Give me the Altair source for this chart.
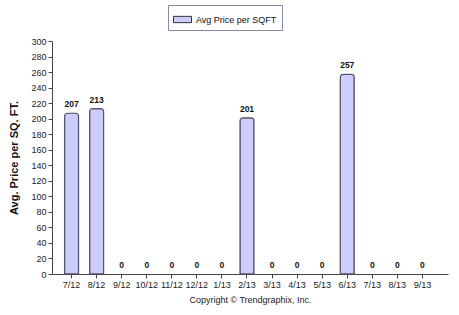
import altair as alt
import pandas as pd

months = ["7/12", "8/12", "9/12", "10/12", "11/12", "12/12", "1/13", "2/13",
          "3/13", "4/13", "5/13", "6/13", "7/13", "8/13", "9/13"]
values = [207, 213, 0, 0, 0, 0, 0, 201, 0, 0, 0, 257, 0, 0, 0]
series = ["Avg Price per SQFT"] * len(months)
y_ticks = [0, 20, 40, 60, 80, 100, 120, 140, 160, 180, 200, 220, 240, 260, 280, 300]

df = pd.DataFrame({"month": months, "value": values, "series": series})

FONT = "Liberation Sans"

x = alt.X("month:N", sort=months,
          scale=alt.Scale(paddingInner=0, paddingOuter=0.4, align=0.35),
          axis=alt.Axis(title="Copyright \u00a9 Trendgraphix, Inc.", labelAngle=0,
                        labelFontSize=9, labelFont=FONT, labelColor="#222",
                        titleFontSize=9, titleFont=FONT, titleFontWeight="normal",
                        titleColor="#222", titlePadding=6, labelOverlap=False,
                        tickSize=4, labelPadding=2, domainColor="#444",
                        tickColor="#444", grid=False))

y = alt.Y("value:Q",
          scale=alt.Scale(domain=[0, 300], nice=False, zero=True),
          axis=alt.Axis(title="Avg. Price per SQ. FT.", values=y_ticks,
                        labelFontSize=9, labelFont=FONT, labelColor="#222",
                        labelOverlap=False,
                        titleFontSize=11, titleFont=FONT, titleFontWeight="bold",
                        titleColor="#111", titlePadding=11,
                        tickSize=4, labelPadding=2, domainColor="#444",
                        tickColor="#444", grid=False))

bars = alt.Chart(df).transform_filter(alt.datum.value > 0).mark_bar(
    size=14, cornerRadiusTopLeft=3, cornerRadiusTopRight=3,
    stroke="#55556a", strokeWidth=1.2).encode(
    x=x, y=y,
    color=alt.Color("series:N",
                    scale=alt.Scale(range=["#ccccff"]),
                    legend=alt.Legend(title=None, orient="none", legendX=116, legendY=-36,
                                      strokeColor="#8888aa", padding=5, fillColor="white",
                                      labelFont=FONT, labelFontSize=9, labelColor="#111",
                                      symbolType="M-1,-0.35H1V0.35H-1Z", symbolSize=324,
                                      symbolStrokeColor="#333", symbolStrokeWidth=1,
                                      symbolOpacity=1))
)

labels = alt.Chart(df).mark_text(baseline="bottom", dy=-4, fontSize=8.5,
                                 fontWeight="bold", font=FONT, color="#111").encode(
    x=x, y=y, text="value:Q"
)

chart = alt.layer(bars, labels).properties(
    width=396, height=233,
    padding={"left": 52, "top": 41, "right": 11, "bottom": 41},
    autosize=alt.AutoSizeParams(type="none"),
    background="white"
).configure_view(stroke=None)

chart.save("out.html", embed_options={"renderer": "svg", "actions": False})
